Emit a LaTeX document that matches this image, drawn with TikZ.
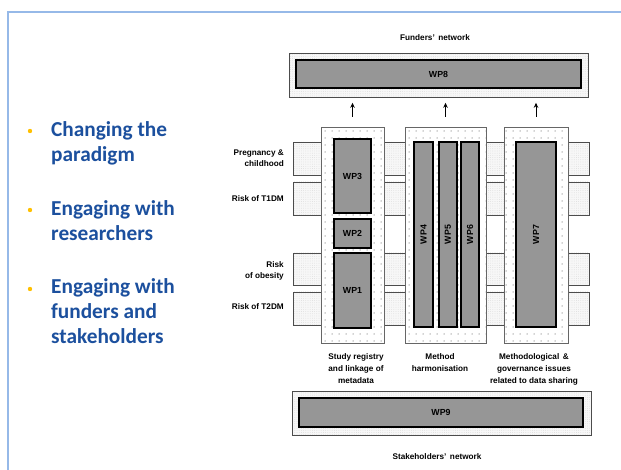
\documentclass[tikz,border=0pt]{standalone}
\usepackage{fontspec}
\setmainfont{Liberation Sans}
\newfontfamily\slidefont{Carlito}
\usetikzlibrary{patterns.meta,arrows.meta,calc}
\definecolor{framebl}{RGB}{150,185,232}
\definecolor{headblue}{RGB}{28,80,158}
\definecolor{bulletgold}{RGB}{255,192,0}
\definecolor{wpgray}{RGB}{150,150,150}
\begin{document}
\begin{tikzpicture}[x=1pt,y=-1pt,
  band/.style={draw=black!70, line width=0.8pt, preaction={fill=black!3},
    pattern={Dots[distance=2.2pt,radius=0.35pt]}, pattern color=black!18},
  colbox/.style={draw=black!60, line width=0.8pt, preaction={fill=white},
    pattern={Dots[distance=6.5pt,radius=0.8pt]}, pattern color=black!35,
    anchor=north west, inner sep=0pt, outer sep=0pt},
  wpbox/.style={draw=black, line width=1.1pt, fill=wpgray, anchor=north west,
    inner sep=0pt, outer sep=0pt, font=\bfseries\fontsize{8.8}{10}\selectfont},
  wptext/.style={font=\bfseries\fontsize{8.8}{10}\selectfont, inner sep=0pt},
  lab/.style={font=\bfseries\fontsize{8.2}{11}\selectfont, inner sep=0pt},
  desc/.style={font=\bfseries\fontsize{8.2}{12}\selectfont, inner sep=0pt, align=center},
  bulletline/.style={font=\slidefont\bfseries\fontsize{21.3}{25}\selectfont,
    text=headblue, anchor=north west, align=left, inner sep=0pt},
  uparrow/.style={line width=1pt, -{Stealth[length=5pt,width=4.5pt]}}
]
\useasboundingbox (0,0) rectangle (621,470);
\fill[white] (0,0) rectangle (621,470);

% slide frame
\draw[framebl, line width=2pt] (8,472) -- (8,12) -- (623,12);

% bullet points
\foreach \yy in {131,210,289}
  \fill[bulletgold] (30,\yy) circle (2.2pt);
\node[bulletline] (t1) at (51,121) {Changing the\\paradigm};
\node[bulletline] (t2) at (51,200) {Engaging with\\researchers};
\node[bulletline] (t3) at (51,278) {Engaging with\\funders and\\stakeholders};

% study-type bands running behind the columns
\draw[band] (293,142) rectangle (589,175);
\draw[band] (293,182) rectangle (589,215);
\draw[band] (293,253) rectangle (589,285);
\draw[band] (293,292) rectangle (589,325);

% column groups
\node[colbox, minimum width=63pt, minimum height=216pt] (col1) at (321,127) {};
\node[colbox, minimum width=81pt, minimum height=216pt] (col2) at (405,127) {};
\node[colbox, minimum width=64pt, minimum height=216pt] (col3) at (504,127) {};

% work packages
\node[wpbox, minimum width=37pt, minimum height=74pt] (wp3) at (334,139) {WP3};
\node[wpbox, minimum width=37pt, minimum height=29pt] (wp2) at (334,219) {WP2};
\node[wpbox, minimum width=37pt, minimum height=75pt] (wp1) at (334,253) {WP1};
\node[wpbox, minimum width=19pt, minimum height=185pt] (wp4) at (414,142) {};
\node[wpbox, minimum width=18pt, minimum height=185pt] (wp5) at (439,142) {};
\node[wpbox, minimum width=18pt, minimum height=185pt] (wp6) at (461,142) {};
\node[wpbox, minimum width=40pt, minimum height=185pt] (wp7) at (516,142) {};
\node[wptext, rotate=90] at (wp4) {WP4};
\node[wptext, rotate=90] at (wp5) {WP5};
\node[wptext, rotate=90] at (wp6) {WP6};
\node[wptext, rotate=90] at (wp7) {WP7};

% funders' network
\node[lab] (funders) at (435,38) {Funders'\, network};
\node[band, anchor=north west, minimum width=299pt, minimum height=44pt, inner sep=0pt] (wp8box) at (289,53) {};
\node[wpbox, minimum width=285pt, minimum height=28pt] (wp8) at (296,60) {WP8};

% stakeholders' network
\node[band, anchor=north west, minimum width=299pt, minimum height=44pt, inner sep=0pt] (wp9box) at (292,391) {};
\node[wpbox, minimum width=284pt, minimum height=29pt] (wp9) at (299,398) {WP9};
\node[lab] (stake) at (437,457) {Stakeholders'\, network};

% arrows up to the funders' network
\foreach \c in {col1,col2,col3}
  \draw[uparrow] ($(\c.north)+(0,-10)$) -- ($(\c.north |- wp8box.south)+(0,5)$);

% row labels
\node[lab, anchor=east, align=right] (lpreg) at (284,158.5) {Pregnancy \&\\childhood};
\node[lab, anchor=east] (lt1) at (284,199) {Risk of T1DM};
\node[lab, anchor=east, align=right] (lob) at (284,271) {Risk\\of obesity};
\node[lab, anchor=east] (lt2) at (284,307) {Risk of T2DM};

% column labels
\node[desc] (d1) at (356,369) {Study registry\\and linkage of\\metadata};
\node[desc] (d2) at (440,363) {Method\\harmonisation};
\node[desc] (d3) at (534,369) {Methodological \,\&\\governance issues\\related to data sharing};
\end{tikzpicture}
\end{document}
